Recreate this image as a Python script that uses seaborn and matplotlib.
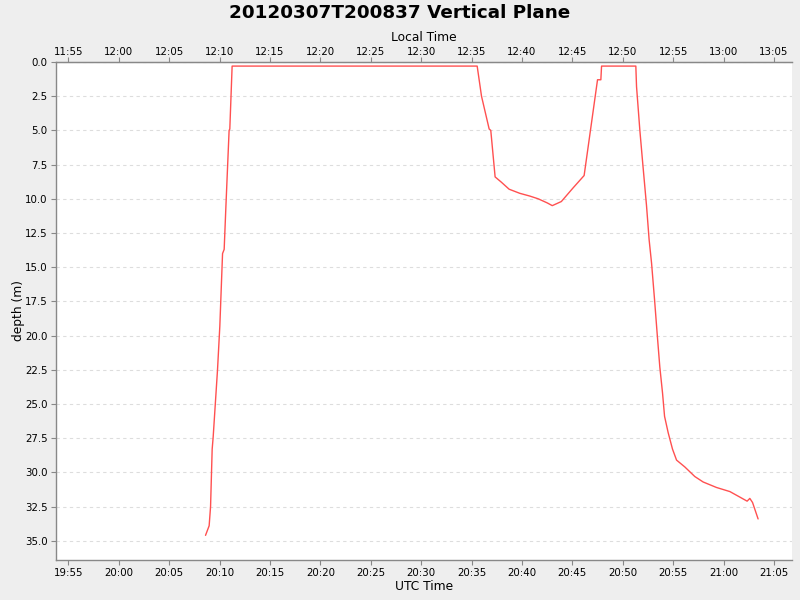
import pandas as pd
import numpy as np
import matplotlib
matplotlib.use('Agg')
import matplotlib.pyplot as plt
import matplotlib.dates as mdates
import seaborn as sns

# Dive profile: minutes after 20:00 UTC and depth in metres
minutes = [8.60, 8.96, 9.10, 9.26, 9.36, 9.79, 10.02, 10.29, 10.45, 10.62, 10.94, 11.01, 11.24,
           35.55, 35.98, 36.74, 36.90, 37.33, 37.97, 38.72, 39.78, 40.77, 41.60, 42.50, 43.00,
           43.90, 45.07, 46.16, 46.56, 47.49, 47.82, 47.89, 51.29, 51.36, 51.69, 51.95, 52.35,
           52.61, 52.85, 53.15, 53.40, 53.67, 53.94, 54.14, 54.50, 54.93, 55.33, 56.15, 57.14,
           57.97, 59.29, 60.62, 61.60, 62.33, 62.60, 62.87, 63.42]
depth = [34.6, 33.9, 32.5, 28.3, 27.4, 22.5, 19.3, 14.0, 13.7, 10.6, 5.0, 4.9, 0.3,
         0.3, 2.5, 4.9, 5.0, 8.4, 8.8, 9.3, 9.6, 9.8, 10.0, 10.3, 10.5,
         10.2, 9.2, 8.3, 6.2, 1.3, 1.3, 0.3, 0.3, 1.8, 5.0, 7.2, 10.5,
         13.0, 14.7, 17.4, 19.8, 22.3, 24.2, 25.9, 27.1, 28.3, 29.1, 29.6, 30.3,
         30.7, 31.1, 31.4, 31.8, 32.1, 31.9, 32.2, 33.4]

start = pd.Timestamp('2012-03-07 20:00:00')
df = pd.DataFrame({'time': start + pd.to_timedelta(minutes, unit='min'), 'depth': depth})

sns.set_style('white')
plt.rcParams['font.family'] = ['DejaVu Sans']
plt.rcParams['text.color'] = 'black'
plt.rcParams['axes.labelcolor'] = 'black'

fig = plt.figure(figsize=(8, 6), dpi=100, facecolor='#eeeeee')
ax = fig.add_axes([0.07, 0.0667, 0.92, 0.83])
ax.set_facecolor('white')

sns.lineplot(data=df, x='time', y='depth', ax=ax, color='#ff5050', linewidth=1)

ax.set_xlim(pd.Timestamp('2012-03-07 19:53:46'), pd.Timestamp('2012-03-07 21:06:47'))
ax.set_ylim(36.4, 0)
ax.set_yticks(np.arange(0, 35.1, 2.5))
ax.yaxis.set_major_formatter(matplotlib.ticker.FormatStrFormatter('%.1f'))
ax.xaxis.set_major_locator(mdates.MinuteLocator(byminute=range(0, 60, 5)))
ax.xaxis.set_major_formatter(mdates.DateFormatter('%H:%M'))

ax.grid(axis='y', color='#dddddd', linestyle=(0, (3, 3)), linewidth=0.8)
ax.grid(axis='x', visible=False)

for side in ['left', 'bottom', 'top']:
    ax.spines[side].set_color('#888888')
    ax.spines[side].set_linewidth(1)
ax.spines['right'].set_visible(False)

ax.tick_params(axis='both', direction='out', length=3.5, width=0.8, color='#888888',
               labelsize=7.4, labelcolor='black', pad=2.5)
ax.tick_params(axis='x', bottom=True)
ax.tick_params(axis='y', left=True)

ax.set_xlabel('UTC Time', fontsize=8.8, labelpad=1)
ax.set_ylabel('depth (m)', fontsize=8.8, labelpad=0)

# Local time axis on top (UTC - 8 h)
offset = 8 / 24
top = ax.secondary_xaxis('top', functions=(lambda x: x - offset, lambda x: x + offset))
top.xaxis.set_major_locator(mdates.MinuteLocator(byminute=range(0, 60, 5)))
top.xaxis.set_major_formatter(mdates.DateFormatter('%H:%M'))
top.tick_params(direction='out', length=3.5, width=0.8, color='#888888',
                labelsize=7.4, labelcolor='black', pad=0)
top.spines['top'].set_color('#888888')
top.set_xlabel('Local Time', fontsize=8.8, labelpad=4.5)

fig.suptitle('20120307T200837 Vertical Plane', fontsize=13.2, fontweight='bold', y=0.993)

fig.savefig('out.png', dpi=100, facecolor=fig.get_facecolor())
